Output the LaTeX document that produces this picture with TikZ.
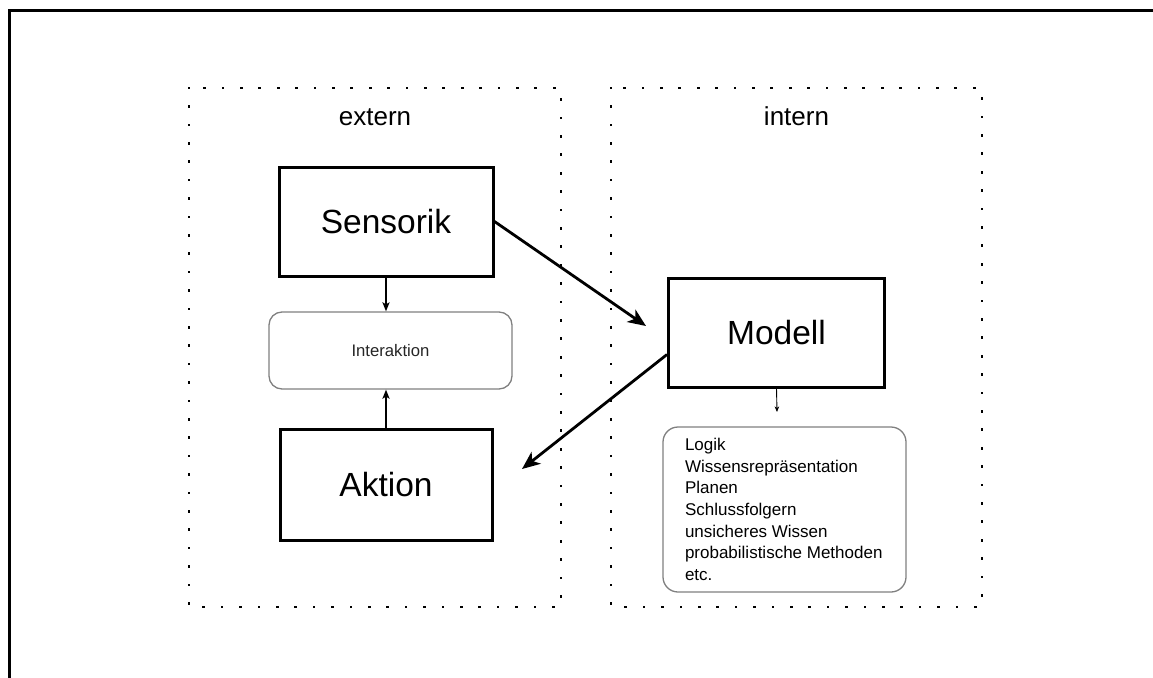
\documentclass[tikz,border=0pt]{standalone}
\usepackage{fontspec}
\setmainfont{Liberation Sans}
\usetikzlibrary{arrows.meta,calc}

\tikzset{
  frameline/.style={line width=3pt, line cap=rect},
  region/.style={draw, line width=2.6pt, dash pattern=on 0.1pt off 18.3pt, line cap=rect},
  mainbox/.style={draw, line width=3pt, minimum width=#1, inner sep=0pt, align=center},
  softbox/.style={draw=black!50, line width=1.3pt, rounded corners=13pt, inner sep=0pt},
  bigarrow/.style={line width=2.8pt, -{Stealth[length=18pt, width=15pt, inset=5pt]}},
  smallarrow/.style={line width=1.6pt, -{Stealth[length=9pt, width=7pt, inset=2pt]}},
  thinarrow/.style={line width=0.9pt, -{Stealth[length=5.5pt, width=4.5pt, inset=1.5pt]}},
  title/.style={font=\fontsize{26}{30}\selectfont, anchor=base},
  big/.style={font=\fontsize{33.5}{40}\selectfont},
}

\begin{document}
\begin{tikzpicture}[x=1pt, y=-1pt]
  \useasboundingbox (0,0) rectangle (1153,677);

  % outer frame (top and left edges)
  \draw[frameline] (1153,11) -- (9,11) -- (9,677);

  % dotted regions
  \draw[region] (189,88) rectangle (561,607);
  \draw[region] (611,88) rectangle (982,607);
  \node[title] (ext) at (375,125) {extern};
  \node[title] (int) at (796.5,125) {intern};

  % external side
  \node[mainbox=214pt, minimum height=109pt, big] (sens) at (386,221.5) {Sensorik};
  \node[mainbox=212pt, minimum height=111pt, big] (akt) at (386,484.5) {Aktion};
  \node[softbox, minimum width=243pt, minimum height=77pt,
        font=\fontsize{16.7}{20}\selectfont, text=black!85] (inter) at (390.5,350.5) {Interaktion};

  % internal side
  \node[mainbox=216pt, minimum height=109pt, big] (mod) at (776.5,332.5) {Modell};
  \node[softbox, rounded corners=15pt, minimum width=243pt, minimum height=165pt,
        font=\fontsize{17}{21.7}\selectfont, align=left] (list) at (784.5,509.5)
    {\makebox[199pt][l]{Logik}\\Wissensrepräsentation\\Planen\\Schlussfolgern\\unsicheres Wissen\\probabilistische Methoden\\etc.};

  % connector end points
  \coordinate (tipM) at (646,326);
  \coordinate (tipA) at (522,469);
  \coordinate (tipL) at (777,412);

  % connectors
  \draw[bigarrow] (sens.east) -- (tipM);
  \draw[bigarrow] ($(mod.west)+(0,22)$) -- (tipA);
  \draw[smallarrow] (sens.south) -- (sens.south |- inter.north);
  \draw[smallarrow] (akt.north) -- (akt.north |- inter.south);
  \draw[thinarrow] (mod.south) -- (tipL);
\end{tikzpicture}
\end{document}
